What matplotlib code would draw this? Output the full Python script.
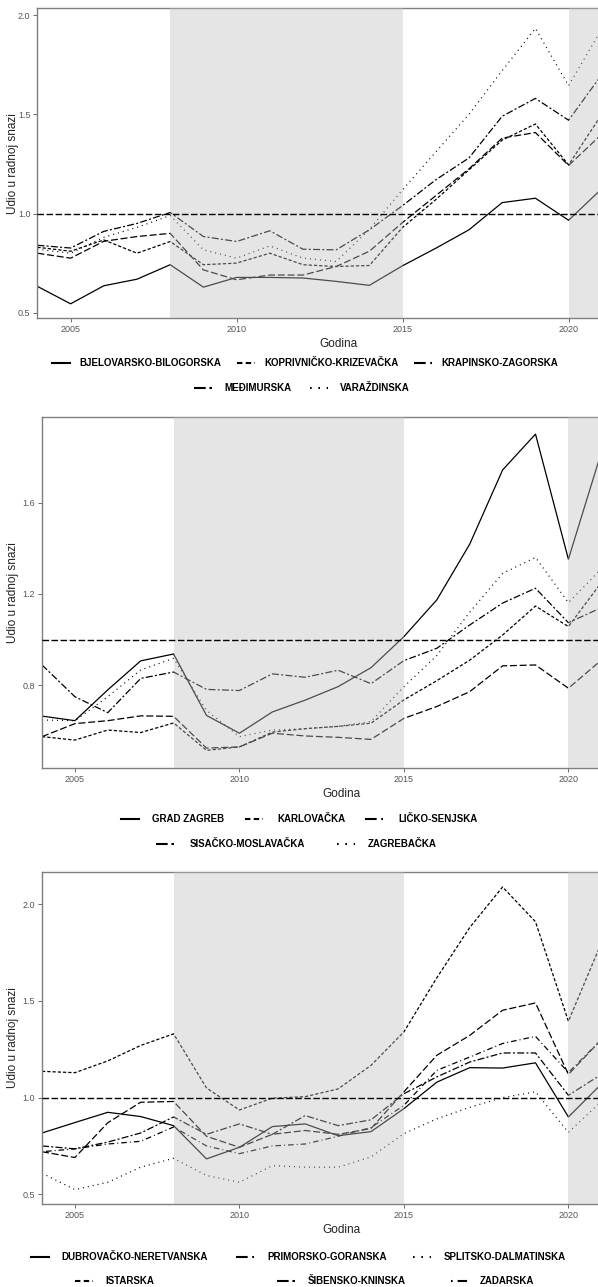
import matplotlib
matplotlib.use('Agg')
import matplotlib.pyplot as plt
from matplotlib.lines import Line2D
import numpy as np

plt.rcParams['font.family'] = ['Liberation Sans', 'DejaVu Sans']

W, H = 598, 1287

years = list(range(2004, 2022))

# panel 1
p1_names = ['BJELOVARSKO-BILOGORSKA', 'KOPRIVNIČKO-KRIZEVAČKA', 'KRAPINSKO-ZAGORSKA',
            'MEĐIMURSKA', 'VARAŽDINSKA']
bjelovarsko = [0.633, 0.545, 0.636, 0.669, 0.742, 0.629, 0.678, 0.678, 0.675, 0.658, 0.638, 0.737, 0.825, 0.918, 1.055, 1.077, 0.966, 1.125]
koprivnicko = [0.83, 0.81, 0.867, 0.80, 0.859, 0.742, 0.75, 0.80, 0.742, 0.733, 0.738, 0.93, 1.07, 1.22, 1.37, 1.451, 1.245, 1.50]
krapinsko = [0.80, 0.775, 0.86, 0.884, 0.90, 0.716, 0.666, 0.69, 0.69, 0.733, 0.81, 0.955, 1.09, 1.225, 1.38, 1.408, 1.242, 1.40]
medjimurska = [0.84, 0.826, 0.91, 0.95, 1.005, 0.884, 0.859, 0.913, 0.82, 0.817, 0.918, 1.04, 1.17, 1.28, 1.49, 1.58, 1.47, 1.70]
varazdinska = [0.82, 0.80, 0.88, 0.93, 0.99, 0.817, 0.775, 0.837, 0.775, 0.758, 0.92, 1.12, 1.31, 1.50, 1.72, 1.933, 1.644, 1.93]

# panel 2
p2_names = ['GRAD ZAGREB', 'KARLOVAČKA', 'LIČKO-SENJSKA', 'SISAČKO-MOSLAVAČKA', 'ZAGREBAČKA']
grad_zagreb = [0.665, 0.645, 0.78, 0.907, 0.937, 0.668, 0.59, 0.683, 0.735, 0.794, 0.877, 1.013, 1.174, 1.418, 1.743, 1.90, 1.352, 1.82]
karlovacka = [0.575, 0.56, 0.604, 0.593, 0.635, 0.515, 0.53, 0.595, 0.61, 0.62, 0.634, 0.736, 0.82, 0.91, 1.02, 1.147, 1.057, 1.25]
licko = [0.575, 0.632, 0.645, 0.666, 0.664, 0.525, 0.53, 0.59, 0.578, 0.572, 0.563, 0.655, 0.707, 0.772, 0.885, 0.889, 0.787, 0.91]
sisacko = [0.889, 0.75, 0.68, 0.83, 0.858, 0.782, 0.777, 0.85, 0.835, 0.866, 0.807, 0.908, 0.962, 1.064, 1.16, 1.225, 1.074, 1.14]
zagrebacka = [0.648, 0.645, 0.75, 0.867, 0.918, 0.69, 0.575, 0.604, 0.61, 0.62, 0.641, 0.794, 0.93, 1.12, 1.29, 1.36, 1.162, 1.31]

# panel 3
p3_names = ['DUBROVAČKO-NERETVANSKA', 'PRIMORSKO-GORANSKA', 'SPLITSKO-DALMATINSKA',
            'ISTARSKA', 'ŠIBENSKO-KNINSKA', 'ZADARSKA']
dubrovacko = [0.817, 0.871, 0.924, 0.902, 0.855, 0.683, 0.743, 0.85, 0.864, 0.803, 0.824, 0.943, 1.08, 1.155, 1.153, 1.18, 0.90, 1.07]
primorsko = [0.72, 0.69, 0.87, 0.976, 0.98, 0.80, 0.743, 0.81, 0.83, 0.81, 0.84, 1.03, 1.219, 1.322, 1.452, 1.49, 1.12, 1.30]
splitsko = [0.609, 0.524, 0.562, 0.64, 0.686, 0.597, 0.562, 0.648, 0.64, 0.64, 0.693, 0.814, 0.89, 0.95, 1.0, 1.03, 0.82, 0.98]
istarska = [1.136, 1.129, 1.19, 1.27, 1.33, 1.05, 0.936, 0.997, 1.005, 1.045, 1.167, 1.34, 1.62, 1.88, 2.09, 1.91, 1.395, 1.80]
sibensko = [0.75, 0.735, 0.77, 0.817, 0.90, 0.81, 0.864, 0.81, 0.907, 0.855, 0.885, 1.02, 1.107, 1.184, 1.231, 1.231, 1.012, 1.12]
zadarska = [0.72, 0.735, 0.76, 0.774, 0.848, 0.75, 0.71, 0.75, 0.76, 0.80, 0.845, 0.96, 1.141, 1.21, 1.28, 1.317, 1.13, 1.30]

# ggplot-like line types
LT = {
    'solid': '-',
    'dashed': (0, (2.6, 1.6)),
    'longdash': (0, (5.6, 2.2)),
    'dotted': (0, (0.8, 3.2)),
    'twodash': (0, (5.6, 1.8, 1.6, 1.8)),
    'dotdash': (0, (0.8, 2.4, 4.5, 2.4)),
}

panels = [
    dict(series=[bjelovarsko, koprivnicko, krapinsko, medjimurska, varazdinska],
         names=p1_names, lts=['solid', 'dashed', 'longdash', 'twodash', 'dotted'],
         box=(37.4, 8.3, 318.3), ppy=33.2, ylim=(0.472, 2.034), yticks=[0.5, 1.0, 1.5, 2.0],
         leg=[(363.3, [(51.5, 79), (236.5, 264), (414, 441.6)]),
              (388.3, [(193.7, 224), (309.7, 340)])]),
    dict(series=[grad_zagreb, karlovacka, licko, sisacko, zagrebacka],
         names=p2_names, lts=['solid', 'dashed', 'longdash', 'twodash', 'dotted'],
         box=(42.0, 417.0, 767.7), ppy=32.9, ylim=(0.439, 1.975), yticks=[0.8, 1.2, 1.6],
         leg=[(819.0, [(121, 152.5), (245, 277), (365, 398)]),
              (844.3, [(156, 189.5), (337, 368)])]),
    dict(series=[dubrovacko, primorsko, splitsko, istarska, sibensko, zadarska],
         names=p3_names, lts=['solid', 'longdash', 'dotted', 'dashed', 'twodash', 'dotdash'],
         box=(42.0, 871.7, 1204.3), ppy=32.9, ylim=(0.448, 2.169), yticks=[0.5, 1.0, 1.5, 2.0],
         leg=[(1256.7, [(31, 61), (236, 267), (413, 444)]),
              (1280.7, [(75, 105.6), (277, 308), (451, 480)])]),
]

fig = plt.figure(figsize=(W / 100, H / 100), dpi=100)
RIGHT_PX = 640  # panel continues past the image edge (cropped)

for p in panels:
    left, top, bottom = p['box']
    ax = fig.add_axes([left / W, 1 - bottom / H, (RIGHT_PX - left) / W, (bottom - top) / H])
    x0 = 2004
    x1 = x0 + (RIGHT_PX - left) / p['ppy']
    for s, lt in zip(p['series'], p['lts']):
        ax.plot(years, s, color='black', lw=0.9, linestyle=LT[lt], zorder=2,
                solid_capstyle='butt', dash_capstyle='butt')
    # recession shading drawn over the lines
    ax.axvspan(2008, 2015, color='#bfbfbf', alpha=0.4, lw=0, zorder=3)
    ax.axvspan(2020, x1 + 1, color='#bfbfbf', alpha=0.4, lw=0, zorder=3)
    ax.axhline(1.0, color='black', lw=1.0, linestyle=(0, (4.7, 1.8)), zorder=4)
    ax.set_xlim(x0, x1)
    ax.set_ylim(*p['ylim'])
    ax.set_xticks([2005, 2010, 2015, 2020])
    ax.set_yticks(p['yticks'])
    ax.set_yticklabels([f'{v:.1f}' for v in p['yticks']])
    ax.tick_params(axis='both', length=3, width=0.6, color='#555555', labelcolor='#555555',
                   labelsize=6.5, pad=2)
    for sp in ax.spines.values():
        sp.set_color('#7f7f7f')
        sp.set_linewidth(1.0)
    ax.set_xlabel('Godina', fontsize=8.5, color='#222222', labelpad=3)
    ax.set_ylabel('Udio u radnoj snazi', fontsize=8.5, color='#222222')
    ax.yaxis.set_label_coords((19 - left) / (RIGHT_PX - left), 0.5)
    ax.set_facecolor('white')

    # legend rows
    k = 0
    for ypx, entries in p['leg']:
        fy = 1 - ypx / H
        for kx, tx in entries:
            fig.add_artist(Line2D([kx / W, (kx + 18) / W], [fy, fy], transform=fig.transFigure,
                                  color='black', lw=1.5, linestyle=LT[p['lts'][k]]))
            fig.text(tx / W, fy, p['names'][k], fontsize=7, fontweight='bold',
                     va='center', ha='left', color='black')
            k += 1

fig.savefig('out.png', dpi=100)
